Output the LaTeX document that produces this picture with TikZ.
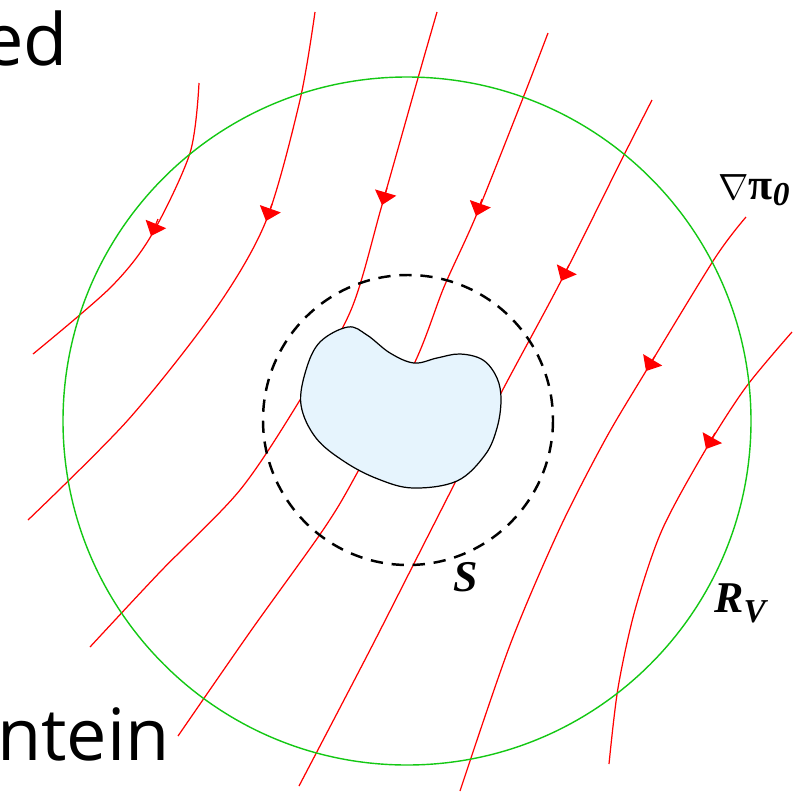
\documentclass[tikz,border=0pt]{standalone}
\usepackage{fontspec}
\setmainfont{Liberation Serif}
\newfontfamily\slidefont{Open Sans}
\usetikzlibrary{arrows.meta}

\definecolor{rvgreen}{RGB}{20,200,20}
\definecolor{blobfill}{RGB}{230,244,253}

\begin{document}
\begin{tikzpicture}[x=0.02cm, y=-0.02cm,
  fieldline/.style={red, line width=0.7pt},
  fieldtip/.style={fieldline, -{Triangle[length=2.6mm, width=4.4mm]}},
  bigcircle/.style={draw=rvgreen, line width=0.8pt},
  surface/.style={draw=black, line width=1.4pt, dash pattern=on 7pt off 5pt},
  body/.style={draw=black, line width=0.7pt, fill=blobfill},
  mathlabel/.style={inner sep=0pt, font=\fontsize{25}{30}\selectfont\bfseries\itshape},
  slidetext/.style={inner sep=0pt, anchor=base east, font=\slidefont\fontsize{41}{48}\selectfont},
  ]
  \useasboundingbox (0,0) rectangle (805,792);
  \clip (0,0) rectangle (805,792);

  % leftover slide text
  \node[slidetext] (title) at (68,65) {ed};
  \node[slidetext] (name) at (170,760) {ntein};

  % field lines
  \draw[fieldline] plot[smooth] coordinates {(199,83) (190,153) (151,236) (110,288) (33,354)};
  \draw[fieldline] plot[smooth] coordinates {(315,12) (300,100) (266,221) (215,310) (128,420) (28,520)};
  \draw[fieldline] plot[smooth] coordinates {(437,12) (418,78) (382,205) (351,310) (300,400) (240,490)
    (160,572) (90,647)};
  \draw[fieldline] plot[smooth] coordinates {(548,33) (523,98) (476,216) (444,287) (415,362) (356,475)
    (323,530) (250,632) (178,736)};
  \draw[fieldline] plot[smooth] coordinates {(652,100) (623,157) (561,281) (500,395) (431,530) (370,650)
    (299,786)};
  \draw[fieldline] plot[smooth] coordinates {(746,217) (715,258) (646,371) (605,440) (559,530) (510,645)
    (460,791)};
  \draw[fieldline] plot[smooth] coordinates {(792,332) (746,387) (706,449) (662,530) (635,610) (618,688)
    (609,764)};

  % arrows on the field lines
  \coordinate (a1) at (151,236); \coordinate (a1b) at (158,219);
  \coordinate (a2) at (266,221); \coordinate (a2b) at (272,204);
  \coordinate (a3) at (382,205); \coordinate (a3b) at (387,188);
  \coordinate (a4) at (476,216); \coordinate (a4b) at (482,199);
  \coordinate (a5) at (561,281); \coordinate (a5b) at (569,265);
  \coordinate (a6) at (646,371); \coordinate (a6b) at (655,356);
  \coordinate (a7) at (706,449); \coordinate (a7b) at (715,433);
  \foreach \i in {1,...,7}
    \draw[fieldtip] (a\i b) -- (a\i);

  % the body
  \draw[body] plot[smooth cycle, tension=0.6] coordinates {(348,327) (367,335) (390,353) (414,363)
    (437,358) (460,354) (483,360) (497,378) (501,400) (497,428) (485,455) (457,481) (413,488)
    (378,479) (345,462) (316,438) (301,405) (306,370) (320,342)};

  % circles
  \draw[bigcircle] (407,421) circle[radius=344];
  \draw[surface] (408,420) circle[radius=145];

  % labels
  \node[mathlabel] (s) at (466,577) {S};
  \node[mathlabel] (rv) at (740,603) {R\raisebox{-0.2cm}{\fontsize{19}{22}\selectfont V}};
  \node[inner sep=0pt] (grad) at (754,190)
    {\fontsize{22}{26}\selectfont$\nabla$\fontsize{25}{30}\selectfont\bfseries π\raisebox{-0.12cm}{\fontsize{19}{22}\selectfont\itshape 0}};
\end{tikzpicture}
\end{document}
